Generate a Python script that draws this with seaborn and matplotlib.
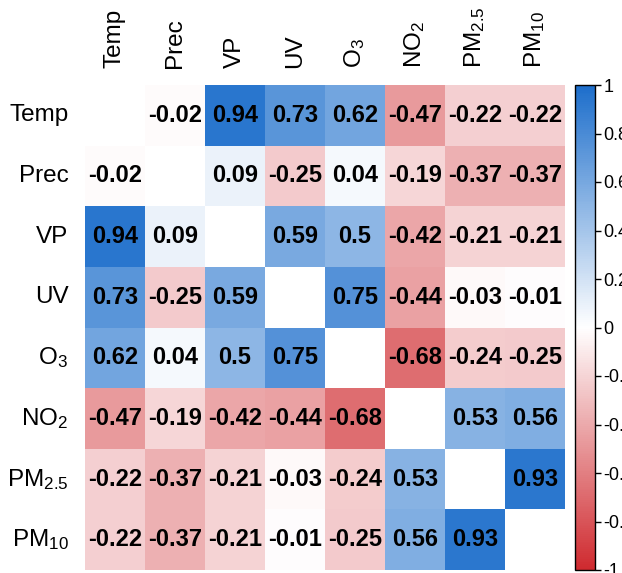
import numpy as np
import pandas as pd
import matplotlib
matplotlib.use("Agg")
import matplotlib.pyplot as plt
import seaborn as sns
from matplotlib.colors import LinearSegmentedColormap

labels = ["Temp", "Prec", "VP", "UV", r"O$_3$", r"NO$_2$", r"PM$_{2.5}$", r"PM$_{10}$"]

temp = [1.00, -0.02, 0.94, 0.73, 0.62, -0.47, -0.22, -0.22]
prec = [-0.02, 1.00, 0.09, -0.25, 0.04, -0.19, -0.37, -0.37]
vp = [0.94, 0.09, 1.00, 0.59, 0.50, -0.42, -0.21, -0.21]
uv = [0.73, -0.25, 0.59, 1.00, 0.75, -0.44, -0.03, -0.01]
o3 = [0.62, 0.04, 0.50, 0.75, 1.00, -0.68, -0.24, -0.25]
no2 = [-0.47, -0.19, -0.42, -0.44, -0.68, 1.00, 0.53, 0.56]
pm25 = [-0.22, -0.37, -0.21, -0.03, -0.24, 0.53, 1.00, 0.93]
pm10 = [-0.22, -0.37, -0.21, -0.01, -0.25, 0.56, 0.93, 1.00]

cb_ticks = [-1, -0.8, -0.6, -0.4, -0.2, 0, 0.2, 0.4, 0.6, 0.8, 1]

mat = np.array([temp, prec, vp, uv, o3, no2, pm25, pm10])
df = pd.DataFrame(mat, index=labels, columns=labels)
mask = np.eye(len(labels), dtype=bool)

def fmt(v):
    s = f"{v:.2f}".rstrip("0").rstrip(".")
    return s

annot = np.array([[fmt(v) for v in row] for row in mat])

plt.rcParams["font.family"] = ["Liberation Sans", "DejaVu Sans"]
plt.rcParams["mathtext.default"] = "regular"

cmap = LinearSegmentedColormap.from_list("rb", ["#CF2A2F", "#FFFFFF", "#1D6ECB"])

fig = plt.figure(figsize=(6.22, 5.73), dpi=100)
ax = fig.add_axes([85/622, 3/573, 480/622, 485/573])
cax = fig.add_axes([575/622, 3/573, 20/622, 485/573])

sns.heatmap(df, mask=mask, cmap=cmap, vmin=-1, vmax=1, annot=annot, fmt="",
            annot_kws={"fontsize": 17, "fontweight": "bold", "color": "black"},
            cbar=True, cbar_ax=cax, ax=ax, linewidths=0, square=False)

ax.xaxis.tick_top()
ax.set_xticklabels(labels, rotation=90, fontsize=17.5)
ax.set_yticklabels(labels, rotation=0, fontsize=17.5)
ax.tick_params(axis="both", length=0, pad=12)
ax.set_xlabel("")
ax.set_ylabel("")

cb = ax.collections[0].colorbar
cb.set_ticks(cb_ticks)
cb.set_ticklabels([fmt(t) if t != 0 else "0" for t in cb_ticks])
cb.ax.tick_params(labelsize=13, length=4, width=1, color="black", pad=2)
cb.outline.set_visible(True)
cb.outline.set_edgecolor("black")
cb.outline.set_linewidth(1)

fig.savefig("out.png", dpi=100)
